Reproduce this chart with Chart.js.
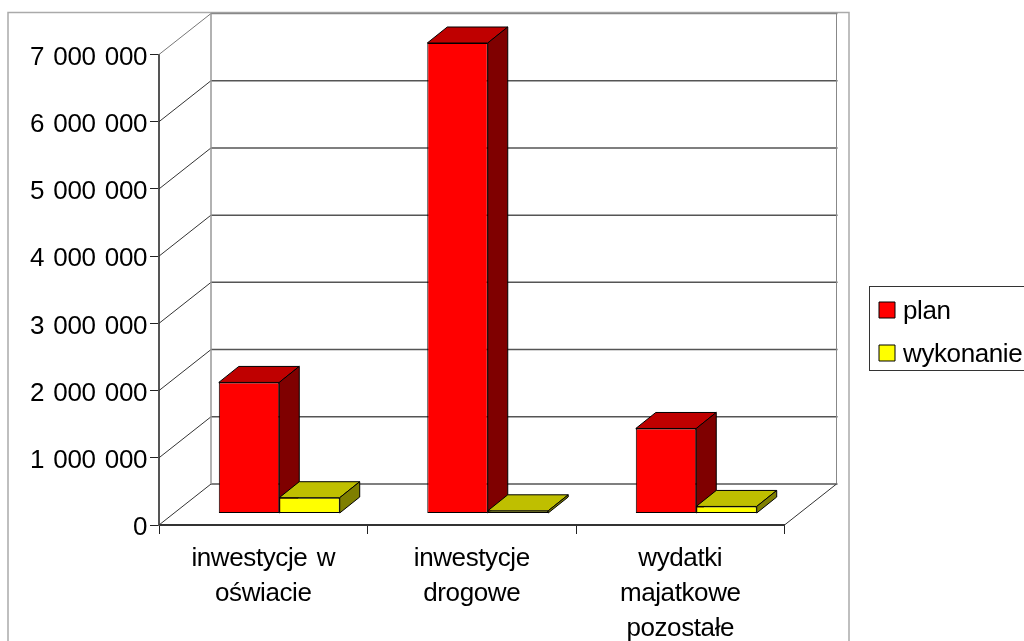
<!DOCTYPE html>
<html><head><meta charset="utf-8">
<style>html,body{margin:0;padding:0;background:#fff}#w{position:relative;width:1024px;height:641px}</style>
<script src="https://cdn.jsdelivr.net/npm/chart.js@4"></script>
</head><body><div id="w"><canvas id="c" width="1024" height="641"></canvas></div>
<script>
const categories = [['inwestycje w','oświacie'],['inwestycje','drogowe'],['wydatki','majatkowe','pozostałe']];
const planValues = [1950000, 7000000, 1265000];
const wykonanieValues = [235000, 40000, 105000];
const seriesNames = ['plan','wykonanie'];
const FONT = {family:'"Liberation Sans", Arial, sans-serif', size:26};

const depth = {wallX:52, wallY:-41, barShiftX:16, barShiftY:-11.5, barX:20, barY:-16};
function face(ctx, pts, fill){
  ctx.beginPath(); pts.forEach((p,i)=> i?ctx.lineTo(p[0],p[1]):ctx.moveTo(p[0],p[1])); ctx.closePath();
  ctx.fillStyle=fill; ctx.fill(); ctx.lineWidth=1; ctx.strokeStyle='#000'; ctx.stroke();
}
function seg(ctx,x1,y1,x2,y2,color,w){
  ctx.beginPath(); ctx.moveTo(x1,y1); ctx.lineTo(x2,y2); ctx.strokeStyle=color; ctx.lineWidth=w; ctx.stroke();
}
const shade = {
  id:'shade',
  beforeDraw(chart){ const c=chart.ctx; c.letterSpacing='-0.4px'; c.wordSpacing='2.5px'; },
  afterLayout(chart){
    const l=chart.legend; const wd=l.width, ht=l.height;
    l.left=862; l.top=280; l.right=l.left+wd; l.bottom=l.top+ht;
    if(!l._wrapped){
      l._wrapped=true;
      const draw=l.draw;
      l.draw=function(){
        const ctx=chart.ctx, ft=ctx.fillText;
        ctx.fillText=function(t,x,y,m){ return m===undefined?ft.call(ctx,t,x-5,y+2):ft.call(ctx,t,x-5,y+2,m); };
        draw.apply(this,arguments);
        delete ctx.fillText;
      };
    }
  },
  beforeDatasetsDraw(chart){
    const ctx=chart.ctx, a=chart.chartArea, ys=chart.scales.y, d=depth;
    ctx.save();
    ctx.strokeStyle='#aaa'; ctx.lineWidth=1.5; ctx.strokeRect(8,12.5,841,700);
    ctx.strokeStyle='#333'; ctx.lineWidth=1; ctx.strokeRect(869.5,286.5,200,84);
    const wl=a.left+d.wallX, wr=a.right+d.wallX;
    ys.ticks.forEach((t,i)=>{
      const y=ys.getPixelForValue(t.value), top=i===ys.ticks.length-1;
      seg(ctx,a.left,y,wl,y+d.wallY,top?'#777':'#333',1);
      seg(ctx,wl,y+d.wallY,wr+1,y+d.wallY,top?'#888':'#555',1.5);
    });
    seg(ctx,wl,a.top+d.wallY,wl,a.bottom+d.wallY,'#999',1.5);
    seg(ctx,wr,a.top+d.wallY,wr,a.bottom+d.wallY,'#888',1);
    seg(ctx,a.right,a.bottom,wr,a.bottom+d.wallY,'#333',1);
    ctx.translate(d.barShiftX,d.barShiftY);
    const tones=[['#BF0000','#7F0000'],['#BFBF00','#7F7F00']];
    chart.data.datasets.forEach((ds,k)=>{
      chart.getDatasetMeta(k).data.forEach(b=>{
        const p=b.getProps(['x','y','base','width'],true);
        const L=p.x-p.width/2,R=p.x+p.width/2,T=p.y,B=p.base;
        face(ctx,[[L,T],[R,T],[R+d.barX,T+d.barY],[L+d.barX,T+d.barY]],tones[k][0]);
        face(ctx,[[R,T],[R+d.barX,T+d.barY],[R+d.barX,B+d.barY],[R,B]],tones[k][1]);
      });
    });
    ctx.restore();
    ctx.save();
    ctx.translate(d.barShiftX,d.barShiftY);
  },
  afterDatasetsDraw(chart){ chart.ctx.restore(); }
};
new Chart(document.getElementById('c'),{
  type:'bar',
  data:{labels:categories,datasets:[
    {label:seriesNames[0],data:planValues,backgroundColor:'#FF0000',borderColor:'#000',borderWidth:1,borderSkipped:false},
    {label:seriesNames[1],data:wykonanieValues,backgroundColor:'#FFFF00',borderColor:'#000',borderWidth:1,borderSkipped:false}
  ]},
  options:{
    responsive:false,animation:false,devicePixelRatio:1,
    layout:{padding:{top:54.5,right:239.5,left:0,bottom:0}},
    datasets:{bar:{categoryPercentage:0.58,barPercentage:1}},
    plugins:{
      tooltip:{enabled:false},
      legend:{position:'chartArea',align:'start',
        labels:{boxWidth:16,boxHeight:16,padding:17,color:'#000',font:FONT}}
    },
    scales:{
      x:{
        afterFit(s){s.height=116;},
        grid:{drawOnChartArea:false,tickLength:9,tickColor:'#222',lineWidth:1},
        border:{color:'#333',width:2},
        ticks:{color:'#000',font:{...FONT,lineHeight:1.33},padding:8,maxRotation:0,autoSkip:false}
      },
      y:{
        min:0,max:7000000,
        afterFit(s){s.width=159;},
        grid:{drawOnChartArea:false,tickLength:9,tickColor:'#222',lineWidth:1},
        border:{color:'#555',width:2},
        ticks:{stepSize:1000000,color:'#000',font:FONT,padding:3,labelOffset:3,
          callback:v=>String(v).replace(/\B(?=(\d{3})+$)/g,' ')}
      }
    }
  },
  plugins:[shade]
});
</script></body></html>
